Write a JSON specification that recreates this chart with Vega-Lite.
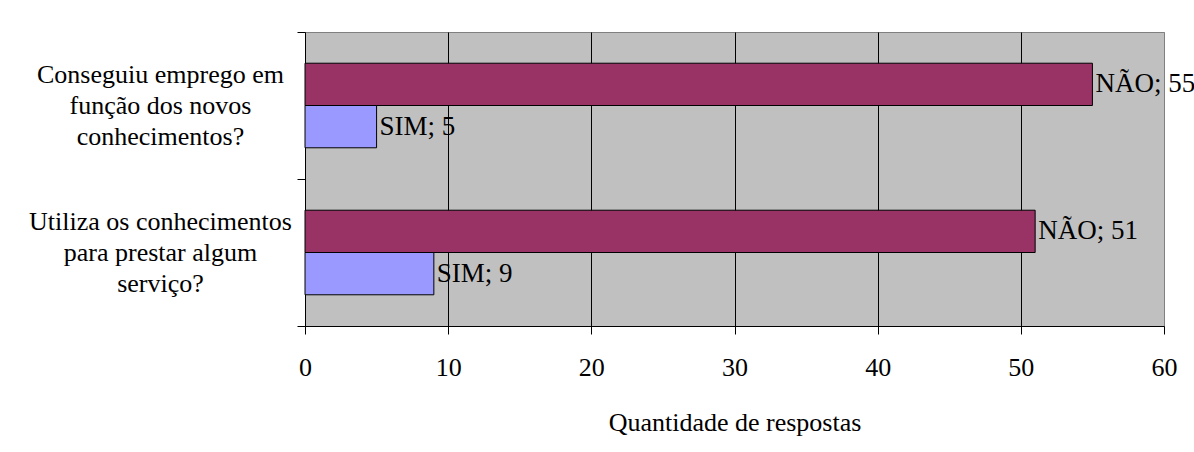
{
  "$schema": "https://vega.github.io/schema/vega-lite/v6.json",
  "width": 859,
  "height": 294,
  "autosize": "none",
  "padding": {"left": 305, "top": 32, "right": 30, "bottom": 126},
  "background": "white",
  "config": {
    "font": "Liberation Serif",
    "view": {"fill": "#C0C0C0", "stroke": "#808080", "strokeWidth": 1}
  },
  "data": {
    "values": [
      {"pergunta": "Conseguiu emprego em|função dos novos|conhecimentos?", "resposta": "NÃO", "quantidade": 55, "rotulo": "NÃO; 55"},
      {"pergunta": "Conseguiu emprego em|função dos novos|conhecimentos?", "resposta": "SIM", "quantidade": 5, "rotulo": "SIM; 5"},
      {"pergunta": "Utiliza os conhecimentos|para prestar algum|serviço?", "resposta": "NÃO", "quantidade": 51, "rotulo": "NÃO; 51"},
      {"pergunta": "Utiliza os conhecimentos|para prestar algum|serviço?", "resposta": "SIM", "quantidade": 9, "rotulo": "SIM; 9"}
    ]
  },
  "encoding": {
    "y": {
      "field": "pergunta",
      "type": "nominal",
      "sort": null,
      "scale": {"paddingInner": 0, "paddingOuter": 0},
      "axis": {
        "title": null,
        "tickBand": "extent",
        "tickSize": 8,
        "tickColor": "black",
        "domainColor": "black",
        "labelFont": "Liberation Serif",
        "labelExpr": "isValid(datum.value) ? split(datum.value, '|') : ''",
        "labelAlign": "center",
        "labelBaseline": "middle",
        "labelOffset": -31,
        "labelPadding": 137,
        "labelFontSize": 26,
        "labelLineHeight": 31,
        "labelColor": "black",
        "labelLimit": 0,
        "grid": false
      }
    },
    "yOffset": {
      "field": "resposta",
      "type": "nominal",
      "sort": ["NÃO", "SIM"],
      "scale": {"paddingInner": 0, "paddingOuter": 0.738}
    },
    "x": {
      "field": "quantidade",
      "type": "quantitative",
      "scale": {"domain": [0, 60], "nice": false},
      "axis": {
        "title": "Quantidade de respostas",
        "titleFont": "Liberation Serif",
        "titleFontSize": 26,
        "titleFontWeight": "normal",
        "titleColor": "black",
        "titlePadding": 29,
        "values": [0, 10, 20, 30, 40, 50, 60],
        "labelFont": "Liberation Serif",
        "labelFontSize": 26,
        "labelColor": "black",
        "labelFlush": false,
        "labelPadding": 20,
        "tickSize": 8,
        "tickColor": "black",
        "domainColor": "black",
        "grid": true,
        "gridColor": {"condition": {"test": "datum.value == 60 || datum.value == 0", "value": "#808080"}, "value": "black"},
        "gridOpacity": 1
      }
    }
  },
  "layer": [
    {
      "mark": {"type": "bar", "stroke": "black", "strokeWidth": 1},
      "encoding": {
        "color": {
          "field": "resposta",
          "type": "nominal",
          "scale": {"domain": ["NÃO", "SIM"], "range": ["#993366", "#9999FF"]},
          "legend": null
        }
      }
    },
    {
      "mark": {"type": "text", "align": "left", "baseline": "middle", "dx": 3, "fontSize": 27, "font": "Liberation Serif", "color": "black"},
      "encoding": {"text": {"field": "rotulo", "type": "nominal"}}
    }
  ]
}
